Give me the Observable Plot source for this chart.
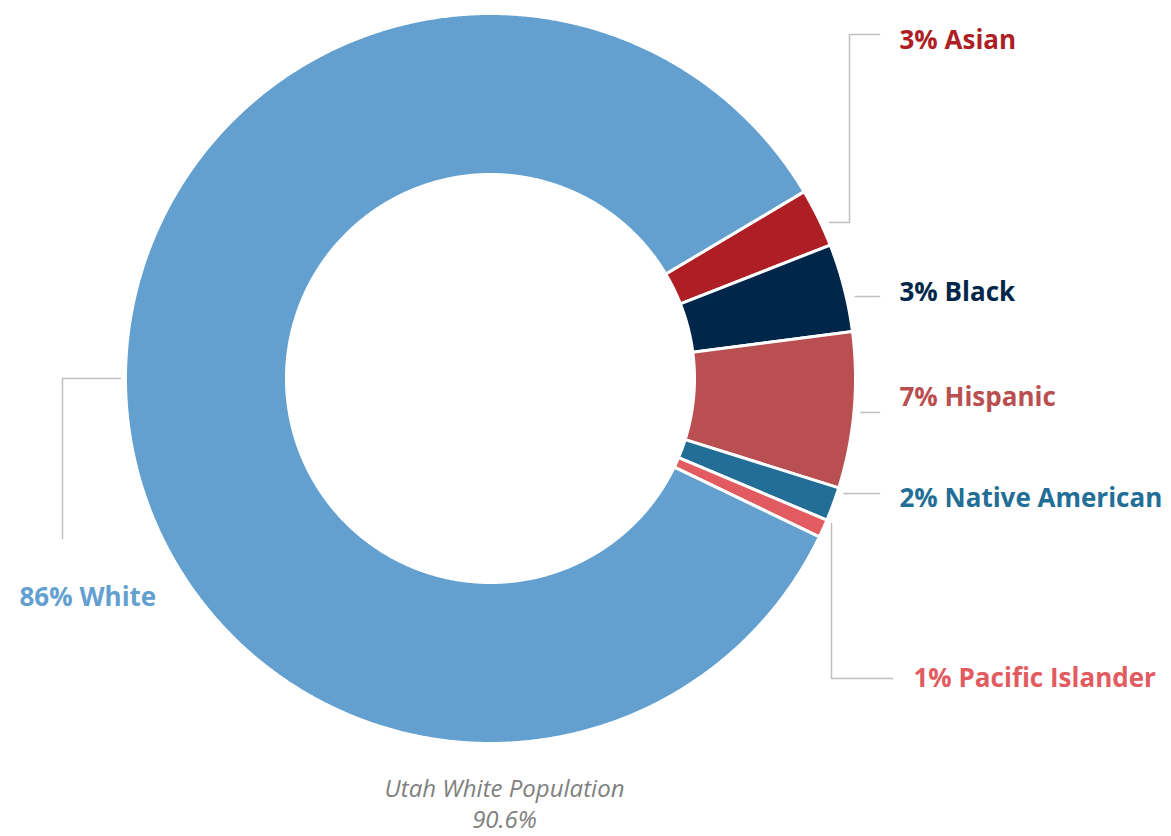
<!DOCTYPE html>
<html><head><meta charset="utf-8">
<script src="https://cdn.jsdelivr.net/npm/d3@7"></script>
<script src="https://cdn.jsdelivr.net/npm/@observablehq/plot@0.6"></script>
<style>html,body{margin:0;padding:0;background:#fff;}</style>
</head><body><div id="chart"></div>
<script>
// ---- data ----
const groups = ["Asian", "Black", "Hispanic", "Native American", "Pacific Islander", "White"];
const shares = [2.6, 3.9, 6.9, 1.5, 0.8, 84.3];
const labels = ["3% Asian", "3% Black", "7% Hispanic", "2% Native American", "1% Pacific Islander", "86% White"];
const colors = ["#ad1f24", "#00264a", "#b94f51", "#236e96", "#e25b60", "#63a0cf"];
const captionLines = ["Utah White Population", "90.6%"];

// ---- layout ----
const W = 1171, H = 836;
const cx = 490, cy = 378, R = 365, R0 = 204;
const startDeg = 59.2;
const labelPos = [
  {x: 899, y: 40}, {x: 899, y: 292}, {x: 899, y: 397},
  {x: 899, y: 498}, {x: 913, y: 678}, {x: 19, y: 597}
];
const circleX = (y, side) => cx + side * Math.sqrt(R * R - (y - cy) * (y - cy));
const leaders = [
  [[circleX(222, 1) + 9, 222], [849, 222], [849, 34], [879, 34]],
  [[circleX(296, 1) + 9, 296], [879, 296]],
  [[circleX(412, 1) + 7, 412], [879, 412]],
  [[circleX(493, 1) + 7, 493], [879, 493]],
  [[831, 523], [831, 678], [892, 678]],
  [[circleX(378, -1) - 5, 378], [62, 378], [62, 538]]
];

// ---- build slices ----
const rows = groups.map((g, i) => ({group: g, share: shares[i], label: labels[i], color: colors[i], ...labelPos[i]}));
const a0 = startDeg * Math.PI / 180;
const arcs = d3.pie().sort(null).value(d => d.share).startAngle(a0).endAngle(a0 + 2 * Math.PI)(rows);
const pts = [];
arcs.forEach(a => {
  const n = Math.max(6, Math.ceil((a.endAngle - a.startAngle) / 0.005));
  const poly = [];
  for (let k = 0; k <= n; k++) {
    const t = a.startAngle + (a.endAngle - a.startAngle) * k / n;
    poly.push([cx + R * Math.sin(t), cy - R * Math.cos(t)]);
  }
  for (let k = n; k >= 0; k--) {
    const t = a.startAngle + (a.endAngle - a.startAngle) * k / n;
    poly.push([cx + R0 * Math.sin(t), cy - R0 * Math.cos(t)]);
  }
  poly.push(poly[0]);
  poly.forEach(([x, y]) => pts.push({x, y, group: a.data.group, color: a.data.color}));
});
const leaderPts = [];
leaders.forEach((l, i) => l.forEach(([x, y]) => leaderPts.push({x, y, group: groups[i]})));

const chart = Plot.plot({
  width: W, height: H,
  margin: 0,
  x: {domain: [0, W], range: [0, W], axis: null},
  y: {domain: [0, H], range: [0, H], axis: null},
  style: {fontFamily: "'Open Sans', sans-serif", background: "#fff"},
  marks: [
    Plot.line(pts, {x: "x", y: "y", z: "group", fill: "color", stroke: "#fff", strokeWidth: 3, curve: "linear"}),
    Plot.line(leaderPts, {x: "x", y: "y", z: "group", stroke: "#bfbfbf", strokeWidth: 1.5}),
    Plot.text(rows, {x: "x", y: "y", text: "label", fill: "color", textAnchor: "start", fontSize: 26, fontWeight: "bold", lineAnchor: "middle"}),
    Plot.text([captionLines.join("\n")], {x: 504, y: 802, text: d => d, fill: "#808080", fontSize: 24, fontStyle: "italic", lineHeight: 1.3, textAnchor: "middle", lineAnchor: "middle"})
  ]
});
document.getElementById("chart").appendChild(chart);
</script>
</body></html>
